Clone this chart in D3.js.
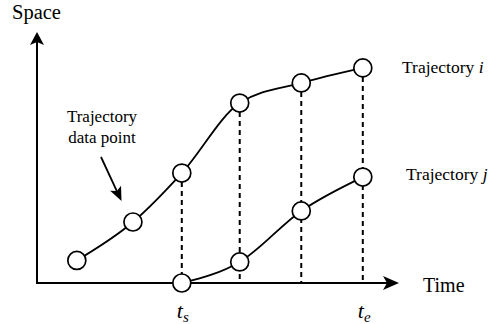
<!DOCTYPE html>
<html>
<head>
<meta charset="utf-8">
<script src="https://cdn.jsdelivr.net/npm/d3@7"></script>
<style>
  html, body { margin: 0; padding: 0; background: #fff; }
  svg { display: block; }
</style>
</head>
<body>
<svg id="chart" width="489" height="324"></svg>
<script>
// ---- data ----
const timeI  = [1.1, 2.65, 4.0, 5.6, 7.3, 9.0];
const spaceI = [0.9, 2.43, 4.38, 7.17, 7.97, 8.57];
const timeJ  = [4.0, 5.6, 7.3, 9.0];
const spaceJ = [0.0, 0.84, 2.87, 4.22];
const tickTimes  = [4.0, 9.0];
const tickLabels = [{base: "t", sub: "s"}, {base: "t", sub: "e"}];
const axisTitles = {x: "Time", y: "Space"};
const seriesLabels = [{name: "Trajectory ", id: "i"}, {name: "Trajectory ", id: "j"}];
const annotation = ["Trajectory", "data point"];

const FONT = "'Liberation Serif', 'Times New Roman', Tinos, 'DejaVu Serif', serif";

// ---- scales ----
const x = d3.scaleLinear().domain([0, 10]).range([37, 399]);
const y = d3.scaleLinear().domain([0, 10]).range([283, 32]);

const svg = d3.select("#chart").attr("font-family", FONT);
const ptsI = timeI.map((t, k) => [t, spaceI[k]]);
const ptsJ = timeJ.map((t, k) => [t, spaceJ[k]]);
const R = 9;

// dashed guides from trajectory i points down to the time axis
const guideTimes = timeI.slice(2);
const guideSpaces = spaceI.slice(2);
svg.append("g").selectAll("line").data(guideTimes).join("line")
  .attr("x1", d => x(d)).attr("x2", d => x(d))
  .attr("y1", (d, k) => y(guideSpaces[k]) + R)
  .attr("y2", y(0))
  .attr("stroke", "#000").attr("stroke-width", 2)
  .attr("stroke-dasharray", "5,4");

// axes
const ax = svg.append("g");
ax.append("line").attr("x1", x(0)).attr("x2", x(10) - 12).attr("y1", y(0)).attr("y2", y(0))
  .attr("stroke", "#000").attr("stroke-width", 2);
ax.append("line").attr("x1", x(0)).attr("x2", x(0)).attr("y1", y(0) + 1).attr("y2", y(10) + 10)
  .attr("stroke", "#000").attr("stroke-width", 2);
ax.append("path")
  .attr("d", `M${x(10)},${y(0)} L${x(10) - 16},${y(0) - 7} L${x(10) - 12},${y(0)} L${x(10) - 16},${y(0) + 7} Z`)
  .attr("fill", "#000");
ax.append("path")
  .attr("d", `M${x(0)},${y(10)} L${x(0) - 7},${y(10) + 13} L${x(0)},${y(10) + 10} L${x(0) + 7},${y(10) + 13} Z`)
  .attr("fill", "#000");

// axis titles
svg.append("text").attr("font-family", FONT).attr("x", 12).attr("y", 19).attr("font-size", 20.5).text(axisTitles.y);
svg.append("text").attr("font-family", FONT).attr("x", 423).attr("y", 292).attr("font-size", 20).text(axisTitles.x);

// tick labels t_s, t_e
const tl = svg.append("g").selectAll("text").data(tickTimes).join("text")
  .attr("font-family", FONT)
  .attr("x", d => x(d) - 5).attr("y", 318)
  .attr("font-size", 22).attr("font-style", "italic");
tl.append("tspan").text((d, k) => tickLabels[k].base);
tl.append("tspan").attr("font-size", 15).attr("dy", 4).text((d, k) => tickLabels[k].sub);

// trajectory lines
const line = d3.line().x(d => x(d[0])).y(d => y(d[1])).curve(d3.curveMonotoneX);
[ptsI, ptsJ].forEach(p => {
  svg.append("path").attr("d", line(p)).attr("fill", "none")
    .attr("stroke", "#000").attr("stroke-width", 1.8);
});

// data points
[ptsI, ptsJ].forEach(p => {
  svg.append("g").selectAll("circle").data(p).join("circle")
    .attr("cx", d => x(d[0])).attr("cy", d => y(d[1])).attr("r", R)
    .attr("fill", "#fff").attr("stroke", "#000").attr("stroke-width", 1.7);
});

// series labels
const lblPos = [[402, 73], [406, 180]];
seriesLabels.forEach((s, k) => {
  const t = svg.append("text").attr("font-family", FONT)
    .attr("x", lblPos[k][0]).attr("y", lblPos[k][1]).attr("font-size", 17.5);
  t.append("tspan").text(s.name);
  t.append("tspan").attr("font-style", "italic").text(s.id);
});

// annotation
const an = svg.append("text").attr("font-family", FONT).attr("font-size", 17).attr("text-anchor", "middle");
annotation.forEach((s, k) => {
  an.append("tspan").attr("x", 102).attr("y", 122 + k * 21).text(s);
});
const a0 = [101, 157], a1 = [121.5, 201];
const ang = Math.atan2(a1[1] - a0[1], a1[0] - a0[0]);
const hl = 14, hw = 6;
const bx = a1[0] - hl * Math.cos(ang), by = a1[1] - hl * Math.sin(ang);
svg.append("line").attr("x1", a0[0]).attr("y1", a0[1]).attr("x2", bx + 3 * Math.cos(ang)).attr("y2", by + 3 * Math.sin(ang))
  .attr("stroke", "#000").attr("stroke-width", 1.8);
svg.append("path")
  .attr("d", `M${a1[0]},${a1[1]} L${bx - hw * Math.sin(ang)},${by + hw * Math.cos(ang)} L${bx + 3 * Math.cos(ang)},${by + 3 * Math.sin(ang)} L${bx + hw * Math.sin(ang)},${by - hw * Math.cos(ang)} Z`)
  .attr("fill", "#000");
</script>
</body>
</html>
